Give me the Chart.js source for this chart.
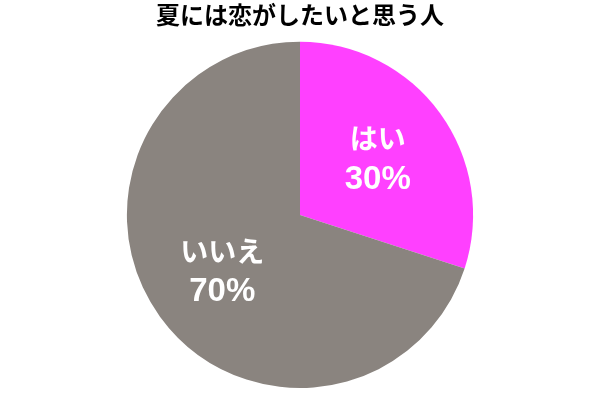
<!DOCTYPE html>
<html lang="ja">
<head>
<meta charset="utf-8">
<title>夏には恋がしたいと思う人</title>
<script src="https://cdn.jsdelivr.net/npm/chart.js@4"></script>
<style>
  html, body { margin: 0; padding: 0; background: #fff; }
  #wrap { width: 600px; height: 400px; }
</style>
</head>
<body>
<div id="wrap"><canvas id="myChart"></canvas></div>
<script>
var labels = ['はい', 'いいえ'];
var values = [30, 70];
var colors = ['#FF40FF', '#8A847F'];

// draw "name / percent" inside each slice
var sliceLabels = {
    id: 'sliceLabels',
    afterDatasetsDraw: function(chart) {
        var ctx = chart.ctx;
        var meta = chart.getDatasetMeta(0);
        var total = values.reduce(function(a, b) { return a + b; }, 0);
        meta.data.forEach(function(arc, i) {
            var p = arc.getProps(['x', 'y', 'startAngle', 'endAngle', 'outerRadius'], true);
            var mid = (p.startAngle + p.endAngle) / 2;
            var d = p.outerRadius * 0.555;
            var cx = p.x + Math.cos(mid) * d;
            var cy = p.y + Math.sin(mid) * d;
            ctx.save();
            ctx.fillStyle = '#fff';
            ctx.textAlign = 'center';
            ctx.textBaseline = 'middle';
            ctx.font = 'bold 28px "Noto Sans CJK JP", sans-serif';
            ctx.fillText(labels[i], cx, cy - 20);
            ctx.font = 'bold 33px "Liberation Sans", Arial, sans-serif';
            ctx.fillText(Math.round(values[i] / total * 100) + '%', cx, cy + 21);
            ctx.restore();
        });
    }
};

var ctx = document.getElementById('myChart').getContext('2d');
var myChart = new Chart(ctx, {
    type: 'pie',
    data: {
        labels: labels,
        datasets: [{
            data: values,
            backgroundColor: colors,
            borderWidth: 0
        }]
    },
    options: {
        responsive: true,
        maintainAspectRatio: false,
        animation: false,
        layout: { padding: { top: 0, bottom: 12, left: 0, right: 0 } },
        plugins: {
            legend: { display: false },
            tooltip: { enabled: false },
            title: {
                display: true,
                text: '夏には恋がしたいと思う人',
                color: '#000',
                font: { family: '"Noto Sans CJK JP", sans-serif', size: 24, weight: 'bold' },
                padding: { top: 0, bottom: 13 }
            }
        }
    },
    plugins: [sliceLabels]
});
</script>
</body>
</html>
